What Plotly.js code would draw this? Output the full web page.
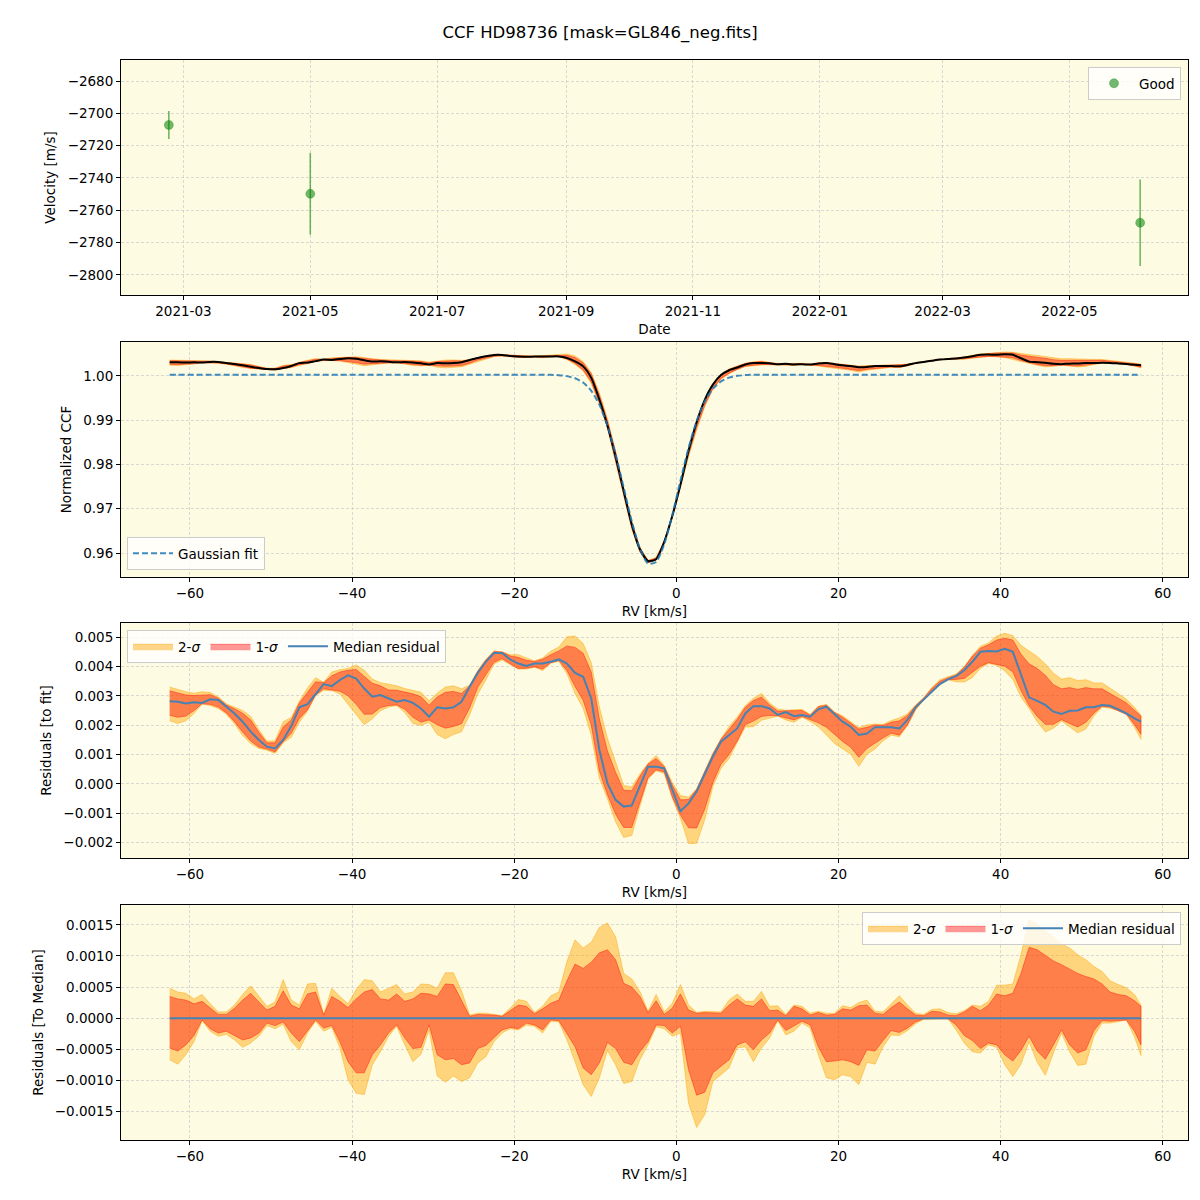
<!DOCTYPE html>
<html><head><meta charset="utf-8">
<script src="https://cdn.plot.ly/plotly-3.0.1.min.js"></script>
<style>html,body{margin:0;padding:0;background:#fff}#chart{width:1200px;height:1200px}</style>
</head><body><div id="chart"></div>
<script>
// ---- Panel 1: RV time series ----
const obsDates = ['2021-02-22', '2021-05-01', '2022-06-04'];
const obsVel = [-2707.2, -2749.8, -2767.7];
const obsErr = [8.7, 25.3, 26.7];

// ---- RV grid (km/s) ----
const rv = [-62.5,-61.5,-60.5,-59.5,-58.5,-57.5,-56.5,-55.5,-54.5,-53.5,
-52.5,-51.5,-50.5,-49.5,-48.5,-47.5,-46.5,-45.5,-44.5,-43.5,
-42.5,-41.5,-40.5,-39.5,-38.5,-37.5,-36.5,-35.5,-34.5,-33.5,
-32.5,-31.5,-30.5,-29.5,-28.5,-27.5,-26.5,-25.5,-24.5,-23.5,
-22.5,-21.5,-20.5,-19.5,-18.5,-17.5,-16.5,-15.5,-14.5,-13.5,
-12.5,-11.5,-10.5,-9.5,-8.5,-7.5,-6.5,-5.5,-4.5,-3.5,
-2.5,-1.5,-0.5,0.5,1.5,2.5,3.5,4.5,5.5,6.5,
7.5,8.5,9.5,10.5,11.5,12.5,13.5,14.5,15.5,16.5,
17.5,18.5,19.5,20.5,21.5,22.5,23.5,24.5,25.5,26.5,
27.5,28.5,29.5,30.5,31.5,32.5,33.5,34.5,35.5,36.5,
37.5,38.5,39.5,40.5,41.5,42.5,43.5,44.5,45.5,46.5,
47.5,48.5,49.5,50.5,51.5,52.5,53.5,54.5,55.5,56.5,
57.3];

// Gaussian fit of the CCF
const gaussFit = [1.0003,1.0003,1.0003,1.0003,1.0003,1.0003,1.0003,1.0003,1.0003,1.0003,
1.0003,1.0003,1.0003,1.0003,1.0003,1.0003,1.0003,1.0003,1.0003,1.0003,
1.0003,1.0003,1.0003,1.0003,1.0003,1.0003,1.0003,1.0003,1.0003,1.0003,
1.0003,1.0003,1.0003,1.0003,1.0003,1.0003,1.0003,1.0003,1.0003,1.0003,
1.0003,1.0003,1.0003,1.0003,1.0003,1.0003,1.00029,1.00026,1.00018,0.99997,
0.9995,0.99852,0.99666,0.99352,0.98875,0.98233,0.97476,0.96713,0.96094,0.95761,
0.95799,0.96199,0.9686,0.97633,0.98374,0.98984,0.99427,0.99712,0.99877,0.99963,
1.00003,1.0002,1.00027,1.0003,1.0003,1.0003,1.0003,1.0003,1.0003,1.0003,
1.0003,1.0003,1.0003,1.0003,1.0003,1.0003,1.0003,1.0003,1.0003,1.0003,
1.0003,1.0003,1.0003,1.0003,1.0003,1.0003,1.0003,1.0003,1.0003,1.0003,
1.0003,1.0003,1.0003,1.0003,1.0003,1.0003,1.0003,1.0003,1.0003,1.0003,
1.0003,1.0003,1.0003,1.0003,1.0003,1.0003,1.0003,1.0003,1.0003,1.0003,
1.0003];

// Residual values below are in units of 1e-4
const RES_UNIT = 1e-4;
// Median residual to the fit
const medianResidual = [28.2,28.0,27.4,27.8,27.6,28.8,28.6,26.3,24.0,21.2,
17.8,15.0,12.7,12.1,15.0,19.7,26.1,27.2,30.6,34.0,
33.3,35.4,37.0,35.9,32.5,29.7,30.3,29.1,28.0,28.6,
27.6,25.7,22.9,26.1,25.7,26.1,28.0,33.1,37.8,41.6,
44.6,44.6,42.4,41.0,40.2,41.0,41.0,41.6,42.4,41.0,
37.8,36.5,29.1,11.6,0.2,-5.4,-7.7,-7.3,-0.9,5.9,
5.9,5.3,-2.0,-9.3,-6.6,-2.6,3.4,9.3,14.4,16.7,
18.9,24.0,26.5,26.5,25.7,23.5,24.5,23.1,23.5,22.9,
25.4,26.3,23.7,21.2,19.5,16.7,17.2,19.3,19.3,19.3,
18.9,21.8,26.1,28.8,31.4,34.0,35.6,36.7,38.7,41.6,
45.0,45.3,45.1,46.0,45.0,37.0,29.5,28.3,26.9,24.6,
23.8,24.9,25.0,26.1,26.1,26.9,26.6,25.4,24.0,22.3,
21.2];
// Band edges relative to the median
const upper2 = [4.8,4.2,4.0,3.1,3.8,2.3,1.0,1.0,2.1,3.8,
5.2,3.5,1.9,2.6,6.2,2.9,2.1,5.5,5.6,0.6,
4.8,3.5,2.3,4.6,6.2,6.0,4.2,4.8,5.4,3.9,
4.2,5.5,5.4,4.8,7.3,7.3,4.4,0.5,0.8,0.8,
0.6,0.4,1.6,3.0,2.7,0.9,1.9,3.6,4.2,9.1,
12.6,11.3,12.2,14.6,15.3,13.1,7.2,6.3,4.3,1.1,
3.8,1.0,2.4,5.4,2.1,0.9,1.1,1.1,1.0,2.9,
3.9,2.7,2.7,4.3,1.9,2.0,0.6,2.1,1.9,0.8,
1.1,0.8,0.8,2.0,1.7,2.5,2.9,1.1,1.0,2.3,
3.6,2.1,0.8,0.6,1.4,1.5,0.9,0.7,1.2,2.1,
1.9,2.7,5.3,5.3,5.5,10.2,15.8,15.1,14.0,13.1,
11.9,11.3,10.2,9.4,8.3,7.5,6.0,5.4,4.9,3.8,
2.1];
const upper1 = [3.5,3.1,2.9,2.3,2.7,1.6,0.6,0.6,1.6,2.9,
4.0,2.6,1.3,1.9,4.4,2.1,1.5,3.9,4.2,0.5,
3.5,2.7,1.7,3.1,4.2,4.6,3.1,2.9,3.9,2.7,
3.1,4.0,3.9,3.5,5.5,5.4,2.8,0.3,0.6,0.6,
0.5,0.3,1.2,2.1,1.9,0.7,1.5,2.4,2.9,6.0,
8.7,8.0,9.0,10.5,11.0,9.4,5.6,5.0,3.5,0.9,
2.8,0.6,1.6,3.9,1.3,0.8,0.9,0.9,0.8,2.1,
3.1,2.1,1.9,3.1,1.2,1.3,0.4,1.9,1.5,0.5,
0.9,0.5,0.6,1.5,1.3,2.0,2.1,0.8,0.6,1.7,
2.6,1.5,0.5,0.4,1.1,1.0,0.5,0.4,1.0,1.9,
1.2,2.1,3.9,3.6,4.0,7.2,11.4,11.0,10.1,9.2,
8.6,7.9,7.2,6.7,6.3,5.5,4.2,3.8,3.6,2.8,
1.9];
const lower1 = [-4.8,-5.3,-4.3,-2.8,-0.3,-1.7,-2.4,-2.1,-2.8,-3.5,
-3.2,-2.4,-0.8,-1.2,-0.6,-2.4,-3.8,-2.0,-0.3,-1.6,
-1.2,-3.8,-7.0,-8.8,-8.8,-5.9,-4.3,-2.4,-1.1,-3.2,
-4.9,-4.7,-1.1,-5.9,-6.7,-6.5,-7.5,-7.2,-4.9,-4.4,
-3.2,-1.9,-1.5,-1.7,-0.8,-1.1,-1.9,-0.3,-0.4,-2.4,
-4.6,-8.0,-9.1,-7.2,-3.9,-4.9,-7.1,-7.5,-5.4,-3.8,
-1.1,-1.2,-2.4,-1.3,-8.3,-12.4,-11.9,-8.8,-7.7,-6.7,
-4.3,-3.8,-5.1,-3.5,-2.4,-0.3,-2.0,-1.3,-0.5,-1.1,
-4.6,-7.0,-6.9,-6.7,-7.0,-7.6,-5.1,-5.3,-3.6,-2.0,
-2.3,-1.6,-0.6,-0.1,-0.1,-0.1,-0.1,-1.1,-2.8,-3.6,
-4.9,-4.0,-4.3,-5.9,-6.9,-5.2,-2.9,-5.3,-6.6,-4.3,
-1.9,-4.3,-5.6,-5.1,-2.0,-0.4,-0.5,-0.4,-0.3,-2.1,
-4.3];
const lower2 = [-6.7,-7.4,-5.9,-3.8,-0.4,-2.1,-2.9,-2.6,-3.5,-4.7,
-4.0,-2.9,-1.2,-1.7,-1.0,-3.8,-5.1,-2.4,-0.5,-2.1,
-1.5,-4.8,-9.9,-12.1,-12.3,-7.5,-5.4,-2.9,-1.3,-4.3,
-7.0,-5.8,-1.9,-9.3,-10.3,-9.3,-10.2,-9.6,-7.2,-6.2,
-3.8,-2.4,-1.7,-1.9,-1.1,-1.3,-2.4,-0.5,-0.6,-3.5,
-7.0,-10.7,-12.6,-9.6,-5.2,-7.5,-10.5,-10.2,-6.7,-4.3,
-1.4,-1.7,-2.9,-2.4,-13.7,-17.6,-15.5,-10.2,-9.1,-8.0,
-4.8,-4.6,-7.0,-4.8,-3.2,-0.4,-2.7,-2.1,-0.8,-1.6,
-5.9,-9.6,-9.9,-9.1,-9.4,-10.7,-7.1,-7.4,-4.6,-2.7,
-2.8,-2.0,-0.9,-0.2,-0.1,-0.1,-0.1,-1.9,-4.0,-5.4,
-5.6,-4.3,-4.7,-7.5,-9.4,-7.4,-3.8,-7.1,-9.2,-5.6,
-2.4,-5.4,-7.6,-7.4,-2.9,-0.8,-0.8,-0.5,-0.3,-3.0,
-6.0];

// ---- derived series ----
const med = medianResidual.map(v => v * RES_UNIT);
const dU2 = upper2.map(v => v * RES_UNIT), dU1 = upper1.map(v => v * RES_UNIT);
const dL1 = lower1.map(v => v * RES_UNIT), dL2 = lower2.map(v => v * RES_UNIT);
const add = (a, b) => a.map((v, i) => v + b[i]);
const ccf = add(gaussFit, med);
const polyX = rv.concat(rv.slice().reverse());
const poly = (up, lo) => up.concat(lo.slice().reverse());

const C2 = 'rgba(255,165,0,0.45)', C1 = 'rgba(255,0,0,0.4)';
const MED = '#4682b4';
const traces = [];
function bands(xa, ya, base, leg, show) {
  traces.push({type:'scatter', mode:'lines', x: polyX, y: poly(add(base, dU2), add(base, dL2)),
    fill:'toself', fillcolor: C2, line:{color: C2, width:1}, name:'2-<i>σ</i>',
    showlegend: show, legend: leg, xaxis: xa, yaxis: ya, hoverinfo:'skip'});
  traces.push({type:'scatter', mode:'lines', x: polyX, y: poly(add(base, dU1), add(base, dL1)),
    fill:'toself', fillcolor: C1, line:{color: C1, width:1}, name:'1-<i>σ</i>',
    showlegend: show, legend: leg, xaxis: xa, yaxis: ya, hoverinfo:'skip'});
}

// Panel 1
traces.push({type:'scatter', mode:'markers', x: obsDates, y: obsVel, name:'Good',
  error_y:{type:'data', array: obsErr, visible:true, color:'rgba(0,128,0,0.55)', thickness:1.6, width:0},
  marker:{color:'rgba(0,128,0,0.55)', size:9, line:{color:'rgba(0,128,0,0.3)', width:1}}, xaxis:'x', yaxis:'y', legend:'legend'});

// Panel 2
bands('x2', 'y2', ccf, 'legend2', false);
traces.push({type:'scatter', mode:'lines', x: rv, y: ccf, line:{color:'#000', width:2, shape:'spline', smoothing:0.6},
  showlegend:false, xaxis:'x2', yaxis:'y2'});
traces.push({type:'scatter', mode:'lines', x: rv, y: gaussFit, name:'Gaussian fit',
  line:{color:'rgba(31,119,180,0.85)', width:2, dash:'6px,3px', shape:'spline', smoothing:0.6},
  xaxis:'x2', yaxis:'y2', legend:'legend2'});

// Panel 3
bands('x3', 'y3', med, 'legend3', true);
traces.push({type:'scatter', mode:'lines', x: rv, y: med, name:'Median residual',
  line:{color: MED, width:2}, xaxis:'x3', yaxis:'y3', legend:'legend3'});

// Panel 4
const zero = med.map(v => v - v);
bands('x4', 'y4', zero, 'legend4', true);
traces.push({type:'scatter', mode:'lines', x: rv, y: zero, name:'Median residual',
  line:{color: MED, width:2}, xaxis:'x4', yaxis:'y4', legend:'legend4'});

const F = 'DejaVu Sans, sans-serif';
const baseAx = {showline:true, mirror:true, linecolor:'#000', linewidth:1, ticks:'outside', ticklen:4,
  tickcolor:'#000', showgrid:true, gridcolor:'#cfcfcf', griddash:'3px,2px', gridwidth:0.8, zeroline:false,
  tickfont:{family:F, size:13.5, color:'#000'}, automargin:false};
const xd = [121/1200, 1188/1200];
const rvRange = [-68.5, 63.1];
const legBase = {bgcolor:'rgba(255,255,255,0.8)', bordercolor:'#cccccc', borderwidth:1,
  font:{family:F, size:13.5, color:'#000'}, itemwidth:40};

const layout = {
  width:1200, height:1200, margin:{l:0, r:0, t:0, b:0},
  paper_bgcolor:'#ffffff', plot_bgcolor:'#fdfbe2',
  font:{family:F, size:13.5, color:'#000'},
  title:{text:'CCF HD98736 [mask=GL846_neg.fits]', x:0.5, xanchor:'center', y:1-32/1200, yanchor:'middle',
    font:{family:F, size:16.5, color:'#000'}},
  xaxis: Object.assign({}, baseAx, {domain: xd, anchor:'y', type:'date', range:['2021-01-30','2022-06-27'],
    dtick:'M2', tick0:'2021-03-01', tickformat:'%Y-%m', title:{text:'Date', standoff:6, font:{family:F, size:13.5}}}),
  yaxis: Object.assign({}, baseAx, {domain:[1-295/1200, 1-60/1200], anchor:'x', range:[-2812.4, -2667], dtick:20,
    title:{text:'Velocity [m/s]', standoff:8, font:{family:F, size:13.5}}}),
  xaxis2: Object.assign({}, baseAx, {domain: xd, anchor:'y2', range: rvRange, dtick:20,
    title:{text:'RV [km/s]', standoff:6, font:{family:F, size:13.5}}}),
  yaxis2: Object.assign({}, baseAx, {domain:[1-577/1200, 1-342/1200], anchor:'x2', range:[0.95458, 1.00768], dtick:0.01,
    tickformat:'.2f', title:{text:'Normalized CCF', standoff:8, font:{family:F, size:13.5}}}),
  xaxis3: Object.assign({}, baseAx, {domain: xd, anchor:'y3', range: rvRange, dtick:20,
    title:{text:'RV [km/s]', standoff:6, font:{family:F, size:13.5}}}),
  yaxis3: Object.assign({}, baseAx, {domain:[1-858/1200, 1-623/1200], anchor:'x3', range:[-0.00252, 0.00548], dtick:0.001,
    tickformat:'.3f', title:{text:'Residuals [to fit]', standoff:8, font:{family:F, size:13.5}}}),
  xaxis4: Object.assign({}, baseAx, {domain: xd, anchor:'y4', range: rvRange, dtick:20,
    title:{text:'RV [km/s]', standoff:6, font:{family:F, size:13.5}}}),
  yaxis4: Object.assign({}, baseAx, {domain:[1-1140/1200, 1-905/1200], anchor:'x4', range:[-0.00196, 0.00182], dtick:0.0005,
    tickformat:'.4f', title:{text:'Residuals [To Median]', standoff:8, font:{family:F, size:13.5}}}),
  legend: Object.assign({}, legBase, {x:1181/1200, xanchor:'right', y:1-67/1200, yanchor:'top'}),
  legend2: Object.assign({}, legBase, {x:127/1200, xanchor:'left', y:1-570/1200, yanchor:'bottom'}),
  legend3: Object.assign({}, legBase, {x:127/1200, xanchor:'left', y:1-630/1200, yanchor:'top', orientation:'h'}),
  legend4: Object.assign({}, legBase, {x:1181/1200, xanchor:'right', y:1-912/1200, yanchor:'top', orientation:'h'}),
  showlegend:true
};

Plotly.newPlot('chart', traces, layout, {displayModeBar:false, staticPlot:true});
</script></body></html>
